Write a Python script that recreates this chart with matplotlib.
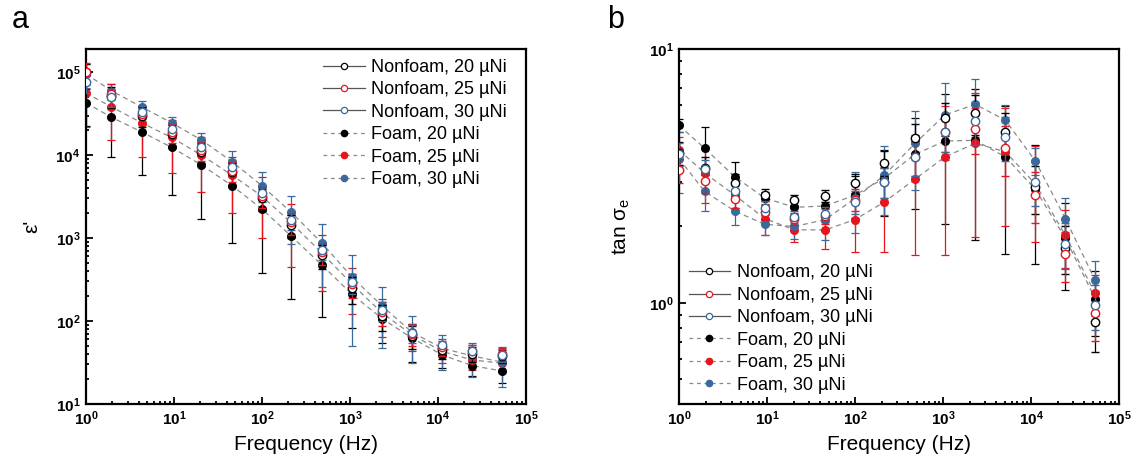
import numpy as np
import matplotlib.pyplot as plt
from matplotlib.lines import Line2D
from matplotlib.ticker import FuncFormatter, NullFormatter, LogLocator

plt.rcParams['font.family'] = ['Liberation Sans', 'DejaVu Sans']
plt.rcParams['mathtext.fontset'] = 'custom'
plt.rcParams['mathtext.rm'] = 'Liberation Sans'
plt.rcParams['mathtext.it'] = 'Liberation Sans:italic'
plt.rcParams['mathtext.bf'] = 'Liberation Sans:bold'

#Frequency points (Hz)
freq = [1, 1.95, 4.3, 9.4, 20.5, 46, 100, 216, 480, 1050, 2320, 5100, 11200, 24500, 53500]

#Panel a: dielectric constant
eps_nf20 = [1.0e5, 5.2e4, 3.0e4, 1.8e4, 1.1e4, 6.2e3, 3.0e3, 1.45e3, 620, 250, 115, 66, 45, 40, 38]
eps_nf25 = [1.0e5, 5.5e4, 3.1e4, 1.9e4, 1.15e4, 6.5e3, 3.2e3, 1.55e3, 680, 280, 128, 70, 48, 43, 40]
eps_nf30 = [7.6e4, 5.0e4, 3.3e4, 2.04e4, 1.24e4, 7.2e3, 3.5e3, 1.65e3, 720, 294, 135, 72, 51, 44, 39]
eps_f20 = [4.27e4, 2.85e4, 1.9e4, 1.24e4, 7.6e3, 4.27e3, 2.24e3, 1.05e3, 473, 211, 107, 62, 39, 29, 25]
eps_f25 = [5.6e4, 3.8e4, 2.45e4, 1.63e4, 1.0e4, 5.7e3, 3.2e3, 1.52e3, 660, 280, 125, 68, 43, 34, 31]
eps_f30 = [9.5e4, 5.96e4, 3.8e4, 2.45e4, 1.52e4, 8.3e3, 4.26e3, 2.04e3, 870, 340, 152, 73, 47, 38, 32]

eps_nf20_err = [2.5e4, 1.5e4, 8e3, 5e3, 3e3, 1.8e3, 900, 450, 200, 90, 40, 20, 10, 8, 7]
eps_nf25_err = [3e4, 1.6e4, 8e3, 5e3, 3e3, 1.8e3, 900, 450, 200, 90, 40, 20, 10, 8, 7]
eps_nf30_err = [2e4, 1.2e4, 6e3, 4e3, 2.5e3, 1.5e3, 800, 400, 180, 80, 35, 18, 10, 8, 7]
eps_f20_err = [2e4, 1.9e4, 1.32e4, 9.1e3, 5.9e3, 3.4e3, 1.86e3, 866, 361, 128, 52, 30, 12, 7, 7]
eps_f25_err = [3.4e4, 2.3e4, 1.5e4, 1.03e4, 6.4e3, 3.7e3, 2.2e3, 1.07e3, 430, 160, 60, 25, 12, 8, 7]
eps_f30_err = [3e4, 1.3e4, 6.5e3, 4.5e3, 3.4e3, 2.9e3, 2.0e3, 1.2e3, 610, 290, 105, 42, 21, 17, 16]

#Panel b: tan sigma_e
tan_nf20 = [3.9, 3.4, 2.96, 2.66, 2.54, 2.64, 2.96, 3.57, 4.47, 5.33, 5.58, 4.7, 2.85, 1.65, 0.84]
tan_nf25 = [3.33, 3.02, 2.57, 2.28, 2.15, 2.2, 2.55, 3.0, 3.76, 4.72, 4.86, 4.06, 2.67, 1.56, 0.91]
tan_nf30 = [3.85, 3.36, 2.76, 2.36, 2.18, 2.24, 2.5, 3.0, 3.76, 4.72, 5.2, 4.51, 3.0, 1.71, 0.98]
tan_f20 = [5.0, 4.07, 3.14, 2.59, 2.38, 2.41, 2.66, 3.1, 3.85, 4.34, 4.37, 3.76, 2.8, 1.8, 1.04]
tan_f25 = [4.0, 3.25, 2.66, 2.15, 1.94, 1.94, 2.13, 2.5, 3.07, 3.76, 4.25, 3.94, 2.94, 1.85, 1.09]
tan_f30 = [3.7, 2.75, 2.30, 2.04, 2.0, 2.13, 2.58, 3.19, 4.25, 5.5, 6.05, 5.25, 3.62, 2.15, 1.23]

tan_nf20_err = [0.4, 0.35, 0.25, 0.15, 0.12, 0.15, 0.25, 0.4, 0.6, 0.8, 1.0, 0.9, 0.6, 0.35, 0.2]
tan_nf25_err = [0.35, 0.3, 0.2, 0.15, 0.12, 0.15, 0.25, 0.4, 0.6, 0.8, 1.0, 0.9, 0.6, 0.35, 0.2]
tan_nf30_err = [0.4, 0.3, 0.2, 0.15, 0.12, 0.15, 0.25, 0.4, 0.6, 0.8, 1.0, 0.9, 0.6, 0.35, 0.2]
tan_f20_err = [0.3, 0.87, 0.45, 0.15, 0.15, 0.2, 0.5, 0.9, 1.5, 2.3, 2.6, 2.2, 1.37, 0.68, 0.3]
tan_f25_err = [0.5, 0.78, 0.3, 0.3, 0.2, 0.31, 0.55, 0.92, 1.53, 2.22, 2.43, 1.94, 1.2, 0.48, 0.2]
tan_f30_err = [1.0, 0.45, 0.28, 0.19, 0.22, 0.36, 0.69, 0.97, 1.47, 1.86, 1.55, 0.75, 0.44, 0.43, 0.23]

nf_labels = ["Nonfoam, 20 µNi", "Nonfoam, 25 µNi", "Nonfoam, 30 µNi"]
f_labels = ["Foam, 20 µNi", "Foam, 25 µNi", "Foam, 30 µNi"]

colors = ["#000000", "#E8141B", "#3A6A9C"]
line_gray = "#8A8A8A"


def bold_pow(v, pos):
    return r'$\mathbf{10^{%d}}$' % int(round(np.log10(v)))


def style_axis(ax):
    ax.set_xscale('log')
    ax.set_yscale('log')
    ax.set_xlim(1, 1e5)
    for s in ax.spines.values():
        s.set_linewidth(1.6)
    ax.tick_params(which='both', direction='in', top=False, right=False, width=1.3)
    ax.tick_params(which='major', length=5, labelsize=11, pad=4)
    ax.tick_params(which='minor', length=2.5)
    ax.xaxis.set_major_locator(LogLocator(base=10, numticks=10))
    ax.xaxis.set_major_formatter(FuncFormatter(bold_pow))
    ax.yaxis.set_major_formatter(FuncFormatter(bold_pow))
    ax.xaxis.set_minor_formatter(NullFormatter())
    ax.yaxis.set_minor_formatter(NullFormatter())
    ax.set_xlabel("Frequency (Hz)", fontsize=15, labelpad=5)


def draw_panel(ax, nf, nf_err, fo, fo_err):
    #Dashed gray lines through the foam data
    for y in fo:
        ax.plot(freq, y, color=line_gray, lw=0.9, ls=(0, (4, 3)), zorder=1)
    #Foam: filled circles
    for y, e, c in zip(fo, fo_err, colors):
        ax.errorbar(freq, y, yerr=e, fmt='o', ms=5.5, mfc=c, mec=c, color=c,
                    ecolor=c, elinewidth=0.9, capsize=3, capthick=0.9, zorder=2)
    #Nonfoam: open circles
    for y, e, c in zip(nf, nf_err, colors):
        ax.errorbar(freq, y, yerr=e, fmt='o', ms=6, mfc='white', mec=c, mew=1.0,
                    color=c, ecolor=c, elinewidth=0.9, capsize=3, capthick=0.9, zorder=3)


def make_legend(ax, anchor):
    h = []
    for c, lab in zip(colors, nf_labels):
        h.append(Line2D([], [], color='#555555', lw=0.9, marker='o', ms=4.5,
                        mfc='white', mec=c, mew=0.9, label=lab))
    for c, lab in zip(colors, f_labels):
        h.append(Line2D([], [], color='#888888', lw=0.9, ls=(0, (3, 3)), marker='o',
                        ms=4.5, mfc=c, mec=c, label=lab))
    ax.legend(handles=h, loc='upper left', bbox_to_anchor=anchor, frameon=False,
              fontsize=13, handlelength=2.3, handletextpad=0.35, labelspacing=0.3,
              borderpad=0, borderaxespad=0)


fig = plt.figure(figsize=(11.34, 4.63), dpi=100)
ax1 = fig.add_axes([0.0758, 0.1274, 0.388, 0.7668])
ax2 = fig.add_axes([0.5988, 0.1274, 0.388, 0.7668])

#Panel a
style_axis(ax1)
ax1.set_ylim(10, 1.9e5)
draw_panel(ax1, [eps_nf20, eps_nf25, eps_nf30], [eps_nf20_err, eps_nf25_err, eps_nf30_err],
           [eps_f20, eps_f25, eps_f30], [eps_f20_err, eps_f25_err, eps_f30_err])
ax1.set_ylabel("ε'", fontsize=15, labelpad=10)
make_legend(ax1, (0.539, 0.972))

#Panel b
style_axis(ax2)
ax2.set_ylim(0.4, 10)
draw_panel(ax2, [tan_nf20, tan_nf25, tan_nf30], [tan_nf20_err, tan_nf25_err, tan_nf30_err],
           [tan_f20, tan_f25, tan_f30], [tan_f20_err, tan_f25_err, tan_f30_err])
ax2.set_ylabel(r"tan σ$_\mathregular{e}$", fontsize=15, labelpad=12)
make_legend(ax2, (0.022, 0.393))

fig.text(0.010, 0.94, "a", fontsize=22)
fig.text(0.535, 0.94, "b", fontsize=22)

fig.savefig("out.png", dpi=100)
